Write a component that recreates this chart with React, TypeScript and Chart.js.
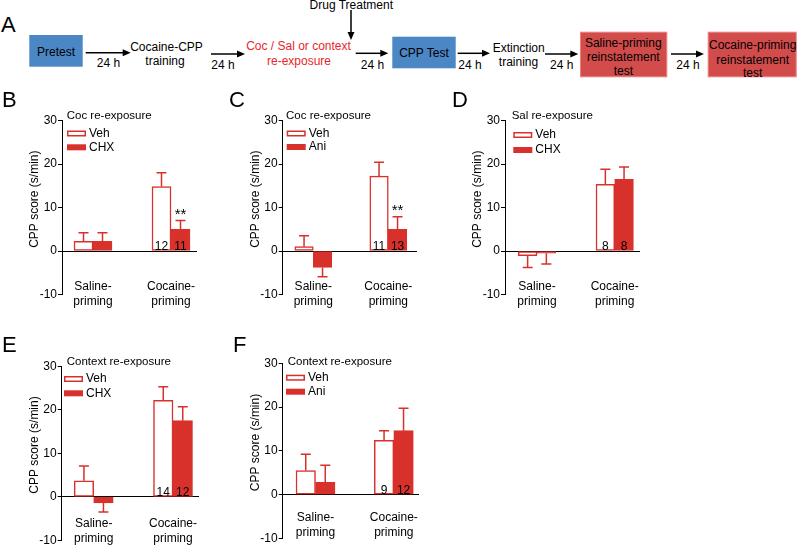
import React, { useEffect, useRef } from 'react';
import { Chart, registerables } from 'chart.js';

Chart.register(...registerables);

const FONT = '"Liberation Sans", Arial, Helvetica, sans-serif';
const RED = '#d8302b';
const BLACK = '#000000';

// ---------- shared ----------
const categories = [['Saline-', 'priming'], ['Cocaine-', 'priming']];
const yTitle = 'CPP score (s/min)';
const yMin = -10;
const yMax = 30;
const yStep = 10;

// ---------- panel B ----------
const bTitle = 'Coc re-exposure';
const bSeries = ['Veh', 'CHX'];
const bVeh = [2.2, 14.8];
const bVehSem = [2.0, 3.2];
const bDrug = [2.2, 5.0];
const bDrugSem = [2.0, 2.0];
const bNVeh = ['', '12'];
const bNDrug = ['', '11'];
const bSig = ['', '**'];

// ---------- panel C ----------
const cTitle = 'Coc re-exposure';
const cSeries = ['Veh', 'Ani'];
const cVeh = [1.0, 17.2];
const cVehSem = [2.5, 3.2];
const cDrug = [-3.8, 5.0];
const cDrugSem = [2.1, 2.9];
const cNVeh = ['', '11'];
const cNDrug = ['', '13'];
const cSig = ['', '**'];

// ---------- panel D ----------
const dTitle = 'Sal re-exposure';
const dSeries = ['Veh', 'CHX'];
const dVeh = [-1.1, 15.3];
const dVehSem = [2.7, 3.5];
const dDrug = [-0.5, 16.5];
const dDrugSem = [2.5, 2.8];
const dNVeh = ['', '8'];
const dNDrug = ['', '8'];
const dSig = ['', ''];

// ---------- panel E ----------
const eTitle = 'Context re-exposure';
const eSeries = ['Veh', 'CHX'];
const eVeh = [3.7, 22.2];
const eVehSem = [3.4, 3.1];
const eDrug = [-1.4, 17.5];
const eDrugSem = [2.1, 3.2];
const eNVeh = ['', '14'];
const eNDrug = ['', '12'];
const eSig = ['', ''];

// ---------- panel F ----------
const fTitle = 'Context re-exposure';
const fSeries = ['Veh', 'Ani'];
const fVeh = [5.5, 12.4];
const fVehSem = [3.7, 2.2];
const fDrug = [2.8, 14.6];
const fDrugSem = [3.9, 5.1];
const fNVeh = ['', '9'];
const fNDrug = ['', '12'];
const fSig = ['', ''];

type PanelData = {
  title: string;
  series: string[];
  veh: number[];
  vehSem: number[];
  drug: number[];
  drugSem: number[];
  nVeh: string[];
  nDrug: string[];
  sig: string[];
};

type PanelLayout = {
  letter: string;
  letterX: number;
  letterY: number;
  left: number;
  top: number;
  width: number;
  height: number;
  axisX: number;
  yTop: number;
  yBot: number;
  rightX: number;
  c1: number;
  c2: number;
  barW: number;
  labelPad: number;
  titleDx: number;
  titleDy: number;
  legDx: number;
  legDy: number;
  legGap: number;
};

function Panel({ L, D }: { L: PanelLayout; D: PanelData }) {
  const ref = useRef<HTMLCanvasElement>(null);
  useEffect(() => {
    const spacing = L.c2 - L.c1;
    const xMin = 1 - (L.c1 - L.axisX) / spacing;
    const xMax = 2 + (L.rightX - L.c2) / spacing;
    const titleCenterX = L.axisX - 27;
    const titleLeft = titleCenterX - 7.2;

    const annot = {
      id: 'annot',
      afterDatasetsDraw(chart: any) {
        const ctx = chart.ctx;
        const ys = chart.scales.y;
        const vals = [D.veh, D.drug];
        const sems = [D.vehSem, D.drugSem];
        ctx.save();
        ctx.strokeStyle = RED;
        ctx.lineWidth = 1.5;
        for (let d = 0; d < 2; d++) {
          const meta = chart.getDatasetMeta(d);
          meta.data.forEach((bar: any, j: number) => {
            const v = vals[d][j];
            const s = sems[d][j];
            const y0 = ys.getPixelForValue(v);
            const y1 = ys.getPixelForValue(v >= 0 ? v + s : v - s);
            ctx.beginPath();
            ctx.moveTo(bar.x, y0);
            ctx.lineTo(bar.x, y1);
            ctx.moveTo(bar.x - 5, y1);
            ctx.lineTo(bar.x + 5, y1);
            ctx.stroke();
          });
        }
        ctx.restore();
      },
      afterDraw(chart: any) {
        const ctx = chart.ctx;
        const ys = chart.scales.y;
        const area = chart.chartArea;
        ctx.save();
        ctx.fillStyle = BLACK;
        // n labels
        ctx.font = `12px ${FONT}`;
        ctx.textAlign = 'center';
        ctx.textBaseline = 'alphabetic';
        const ns = [D.nVeh, D.nDrug];
        const zero = ys.getPixelForValue(0);
        for (let d = 0; d < 2; d++) {
          const meta = chart.getDatasetMeta(d);
          meta.data.forEach((bar: any, j: number) => {
            if (ns[d][j]) ctx.fillText(ns[d][j], bar.x, zero - 1);
          });
        }
        // significance
        ctx.font = `15px ${FONT}`;
        const dm = chart.getDatasetMeta(1);
        dm.data.forEach((bar: any, j: number) => {
          if (!D.sig[j]) return;
          const top = ys.getPixelForValue(D.drug[j] + D.drugSem[j]);
          ctx.fillText(D.sig[j], bar.x, top - 1.5);
        });
        // subtitle
        ctx.textAlign = 'left';
        ctx.textBaseline = 'middle';
        ctx.font = `11.5px ${FONT}`;
        ctx.fillText(D.title, area.left + L.titleDx, area.top + L.titleDy);
        // legend
        ctx.font = `12px ${FONT}`;
        for (let k = 0; k < 2; k++) {
          const cy = area.top + L.legDy + k * L.legGap;
          const bx = area.left + L.legDx;
          if (k === 0) {
            ctx.fillStyle = '#ffffff';
            ctx.fillRect(bx, cy - 3, 19, 6);
            ctx.strokeStyle = RED;
            ctx.lineWidth = 1.5;
            ctx.strokeRect(bx + 0.75, cy - 2.25, 17.5, 4.5);
          } else {
            ctx.fillStyle = RED;
            ctx.fillRect(bx, cy - 3, 19, 6);
          }
          ctx.fillStyle = BLACK;
          ctx.fillText(D.series[k], bx + 22, cy);
        }
        // panel letter
        ctx.font = `22px ${FONT}`;
        ctx.textBaseline = 'alphabetic';
        ctx.fillText(L.letter, L.letterX - L.left, L.letterY - L.top);
        ctx.restore();
      },
    };

    const chart = new Chart(ref.current as HTMLCanvasElement, {
      type: 'bar',
      data: {
        datasets: [
          {
            label: D.series[0],
            data: D.veh.map((v, i) => ({ x: i + 1, y: v })),
            backgroundColor: '#ffffff',
            borderColor: RED,
            borderWidth: 1.5,
            borderSkipped: false,
            barThickness: L.barW,
          },
          {
            label: D.series[1],
            data: D.drug.map((v, i) => ({ x: i + 1, y: v })),
            backgroundColor: RED,
            borderColor: RED,
            borderWidth: 1.5,
            borderSkipped: false,
            barThickness: L.barW,
          },
        ],
      } as any,
      options: {
        responsive: false,
        animation: false,
        devicePixelRatio: 1,
        layout: {
          padding: {
            left: titleLeft - L.left,
            top: L.yTop - L.top,
            right: L.left + L.width - L.rightX,
            bottom: L.top + L.height - L.yBot,
          },
        },
        plugins: {
          legend: { display: false },
          tooltip: { enabled: false },
          title: { display: false },
        },
        scales: {
          x: {
            type: 'linear',
            position: { y: 0 },
            min: xMin,
            max: xMax,
            bounds: 'data',
            offset: false,
            z: 1,
            grid: { display: false, drawTicks: false },
            border: { display: true, color: BLACK, width: 1 },
            afterBuildTicks: (s: any) => {
              s.ticks = categories.map((_, i) => ({ value: i + 1 }));
            },
            ticks: {
              autoSkip: false,
              maxRotation: 0,
              minRotation: 0,
              padding: L.labelPad,
              color: BLACK,
              font: { family: FONT, size: 12, lineHeight: 1.25 },
              callback: (v: any) => categories[Math.round(Number(v)) - 1] ?? '',
            },
          },
          y: {
            min: yMin,
            max: yMax,
            afterFit: (s: any) => {
              s.width = L.axisX - titleLeft;
            },
            ticks: { stepSize: yStep, padding: 1, color: BLACK, font: { family: FONT, size: 12 } },
            grid: { drawOnChartArea: false, drawTicks: true, tickLength: 4, color: BLACK, lineWidth: 1 },
            border: { display: true, color: BLACK, width: 1 },
            title: {
              display: true,
              text: '     ' + yTitle,
              color: BLACK,
              padding: 0,
              font: { family: FONT, size: 12 },
            },
          },
        },
      } as any,
      plugins: [annot],
    });
    return () => chart.destroy();
  }, []);
  return (
    <canvas
      ref={ref}
      width={L.width}
      height={L.height}
      style={{ position: 'absolute', left: L.left, top: L.top, width: L.width, height: L.height }}
    />
  );
}

const layoutB: PanelLayout = {
  letter: 'B', letterX: 2, letterY: 106.5, left: 0, top: 84, width: 260, height: 236,
  axisX: 62, yTop: 120.5, yBot: 294.5, rightX: 196, c1: 93, c2: 171, barW: 19, labelPad: 28.5,
  titleDx: 4.7, titleDy: -4.5, legDx: 5, legDy: 13, legGap: 13.8,
};
const layoutC: PanelLayout = {
  letter: 'C', letterX: 229, letterY: 106.5, left: 222, top: 84, width: 260, height: 236,
  axisX: 282.7, yTop: 120.5, yBot: 294.5, rightX: 416.7, c1: 313.3, c2: 388.3, barW: 18.5, labelPad: 28.5,
  titleDx: 3.3, titleDy: -4.5, legDx: 4, legDy: 13, legGap: 13.5,
};
const layoutD: PanelLayout = {
  letter: 'D', letterX: 452, letterY: 106.5, left: 445, top: 84, width: 255, height: 236,
  axisX: 505, yTop: 120.5, yBot: 294.5, rightX: 639, c1: 537, c2: 614.7, barW: 18.7, labelPad: 28.5,
  titleDx: 6.7, titleDy: -4.5, legDx: 8.3, legDy: 14.5, legGap: 15,
};
const layoutE: PanelLayout = {
  letter: 'E', letterX: 2, letterY: 351.7, left: 0, top: 326, width: 260, height: 234,
  axisX: 61.7, yTop: 366.3, yBot: 540.3, rightX: 198.3, c1: 93.7, c2: 173, barW: 19.5, labelPad: 19.8,
  titleDx: 5, titleDy: -4.6, legDx: 2.3, legDy: 12.7, legGap: 14.3,
};
const layoutF: PanelLayout = {
  letter: 'F', letterX: 233, letterY: 351.7, left: 222, top: 326, width: 260, height: 234,
  axisX: 282.7, yTop: 363.3, yBot: 538.3, rightX: 418.3, c1: 315.5, c2: 393.8, barW: 19.5, labelPad: 15.8,
  titleDx: 5, titleDy: -1.6, legDx: 3.3, legDy: 14.4, legGap: 14,
};

const dataB: PanelData = { title: bTitle, series: bSeries, veh: bVeh, vehSem: bVehSem, drug: bDrug, drugSem: bDrugSem, nVeh: bNVeh, nDrug: bNDrug, sig: bSig };
const dataC: PanelData = { title: cTitle, series: cSeries, veh: cVeh, vehSem: cVehSem, drug: cDrug, drugSem: cDrugSem, nVeh: cNVeh, nDrug: cNDrug, sig: cSig };
const dataD: PanelData = { title: dTitle, series: dSeries, veh: dVeh, vehSem: dVehSem, drug: dDrug, drugSem: dDrugSem, nVeh: dNVeh, nDrug: dNDrug, sig: dSig };
const dataE: PanelData = { title: eTitle, series: eSeries, veh: eVeh, vehSem: eVehSem, drug: eDrug, drugSem: eDrugSem, nVeh: eNVeh, nDrug: eNDrug, sig: eSig };
const dataF: PanelData = { title: fTitle, series: fSeries, veh: fVeh, vehSem: fVehSem, drug: fDrug, drugSem: fDrugSem, nVeh: fNVeh, nDrug: fNDrug, sig: fSig };

// ---------- flow chart (panel A) ----------
const BLUE = '#4b86c5';
const BOXRED = '#d24c4c';
const TXTRED = '#e8262b';

function Arrow({ x1, x2, y }: { x1: number; x2: number; y: number }) {
  return (
    <g>
      <line x1={x1} y1={y} x2={x2 - 6} y2={y} stroke="#000" strokeWidth={1.5} />
      <polygon points={`${x2},${y} ${x2 - 8},${y - 3.5} ${x2 - 8},${y + 3.5}`} fill="#000" />
    </g>
  );
}

function T({ x, cy, children, color = '#000', size = 12 }: { x: number; cy: number; children: any; color?: string; size?: number }) {
  return (
    <text x={x} y={cy + size * 0.36} textAnchor="middle" fontSize={size} fontFamily={FONT} fill={color}>
      {children}
    </text>
  );
}

function Flow() {
  return (
    <svg width={800} height={84} style={{ position: 'absolute', left: 0, top: 0 }}>
      <text x={1} y={31.7} fontSize={22} fontFamily={FONT} fill="#000">A</text>
      <rect x={29.3} y={35} width={53.4} height={31.7} fill={BLUE} />
      <T x={56} cy={51.5}>Pretest</T>
      <Arrow x1={85.7} x2={130.7} y={52.7} />
      <T x={108.5} cy={62.3}>24 h</T>
      <T x={166.5} cy={46.7}>Cocaine-CPP</T>
      <T x={165} cy={61}>training</T>
      <Arrow x1={211} x2={245} y={54} />
      <T x={223} cy={65}>24 h</T>
      <T x={298.5} cy={45.7} color={TXTRED}>Coc / Sal or context</T>
      <T x={299} cy={61} color={TXTRED}>re-exposure</T>
      <T x={351.3} cy={5}>Drug Treatment</T>
      <line x1={351} y1={10} x2={351} y2={34} stroke="#000" strokeWidth={1.5} />
      <polygon points={`351,40 347.5,32 354.5,32`} fill="#000" />
      <Arrow x1={355.7} x2={388.3} y={53.3} />
      <T x={372.5} cy={64.3}>24 h</T>
      <rect x={392.3} y={36.7} width={63.4} height={31.6} fill={BLUE} />
      <T x={424} cy={53}>CPP Test</T>
      <Arrow x1={457.7} x2={490} y={53.3} />
      <T x={470} cy={65}>24 h</T>
      <T x={518.7} cy={47.7}>Extinction</T>
      <T x={518.5} cy={62}>training</T>
      <Arrow x1={545} x2={578.3} y={54} />
      <T x={561.7} cy={65}>24 h</T>
      <rect x={580.5} y={32.2} width={86.3} height={44.6} fill={BOXRED} stroke="#e9807c" strokeWidth={1} />
      <T x={623.3} cy={42.7}>Saline-priming</T>
      <T x={623.3} cy={56.7}>reinstatement</T>
      <T x={623.3} cy={70.7}>test</T>
      <Arrow x1={671} x2={704} y={54} />
      <T x={688} cy={65}>24 h</T>
      <rect x={708.2} y={32.2} width={88} height={44.6} fill={BOXRED} stroke="#e9807c" strokeWidth={1} />
      <T x={752.7} cy={44.3}>Cocaine-priming</T>
      <T x={752.7} cy={59.3}>reinstatement</T>
      <T x={752.7} cy={72.7}>test</T>
    </svg>
  );
}

export default function App() {
  return (
    <div
      style={{
        position: 'absolute',
        left: 0,
        top: 0,
        width: 800,
        height: 546,
        overflow: 'hidden',
        background: '#ffffff',
      }}
    >
      <Flow />
      <Panel L={layoutB} D={dataB} />
      <Panel L={layoutC} D={dataC} />
      <Panel L={layoutD} D={dataD} />
      <Panel L={layoutE} D={dataE} />
      <Panel L={layoutF} D={dataF} />
    </div>
  );
}
